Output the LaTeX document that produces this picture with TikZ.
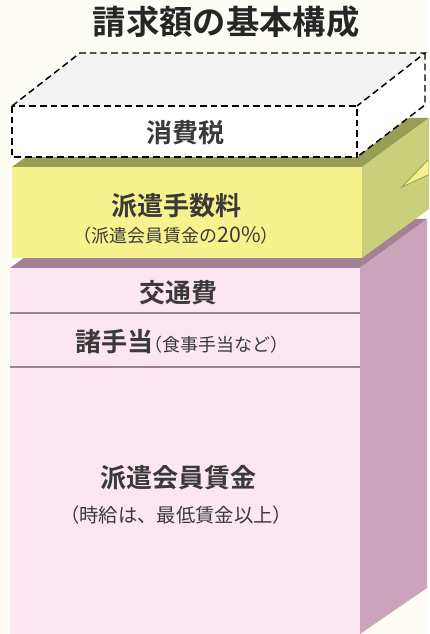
\documentclass[tikz,border=0pt]{standalone}
\usepackage{fontspec}
\setmainfont{Noto Sans CJK JP}[BoldFont={Noto Sans CJK JP Bold}]
\tikzset{every picture/.style={line width=0.75pt}}
\definecolor{bgcream}{RGB}{253,253,246}
\definecolor{textgray}{RGB}{58,58,58}
\definecolor{taxtop}{RGB}{243,243,243}
\definecolor{feefront}{RGB}{246,243,142}
\definecolor{feetop}{RGB}{152,158,84}
\definecolor{feeside}{RGB}{201,207,122}
\definecolor{wagefront}{RGB}{252,230,242}
\definecolor{wagetop}{RGB}{164,130,150}
\definecolor{wageside}{RGB}{203,163,186}
\definecolor{wageline}{RGB}{160,128,144}

\begin{document}
\begin{tikzpicture}[x=0.75pt,y=0.75pt,yscale=-1,xscale=1,
    layerlabel/.style={inner sep=0.75pt, text=textgray, font=\bfseries\fontsize{19.5}{22}\selectfont},
    layernote/.style={inner sep=0.75pt, text=textgray, font=\fontsize{13.5}{16}\selectfont},
    taxedge/.style={draw=black, line width=1.1pt, dash pattern={on 5pt off 3pt}}]
    \path[fill=bgcream] (0,0) rectangle (427,634); %keep the 427x634 frame

    %Shape: Wage block, top face
    \fill[wagetop] (10,268) -- (77,219) -- (427,219) -- (360,268) -- cycle ;
    %Shape: Wage block, side face
    \fill[wageside] (360,268) -- (427,219) -- (427,588) -- (360,634) -- cycle ;
    %Shape: Wage block, front face
    \fill[wagefront] (10,268) rectangle (360,634) ;
    %Straight Lines
    \draw[wageline, line width=1.2pt] (10,313) -- (360,313) ;
    \draw[wageline, line width=1.2pt] (10,367) -- (360,367) ;

    %Shape: Fee block, top face
    \fill[feetop] (12,167) -- (79,118) -- (429,118) -- (362,167) -- cycle ;
    %Shape: Fee block, side face
    \fill[feeside] (362,167) -- (429,118) -- (429,209) -- (362,258) -- cycle ;
    %Shape: Fee block, front face
    \fill[feefront] (12,167) rectangle (362,258) ;
    %Shape: Callout tip
    \draw[feetop, fill=feefront, line width=0.6pt] (428,160) -- (402,187) -- (428,175) ;

    %Shape: Tax block (dashed)
    \fill[taxtop] (12,106) -- (80,53) -- (425,53) -- (357,106) -- cycle ;
    \fill[white] (357,106) -- (425,53) -- (425,105) -- (357,157) -- cycle ;
    \fill[white] (12,106) rectangle (357,157) ;
    \draw[taxedge] (12,106) rectangle (357,157) ;
    \draw[taxedge] (12,106) -- (80,53) -- (425,53) -- (357,106) ;
    \draw[taxedge] (425,53) -- (425,105) -- (357,157) ;

    % Text Node
    \node[inner sep=0.75pt, text=black!85, font=\bfseries\fontsize{25}{28}\selectfont] (title) at (226,22) {請求額の基本構成};
    % Text Node
    \node[layerlabel] (tax) at (185,133) {消費税};
    % Text Node
    \node[layerlabel] (fee) at (176,206) {派遣手数料};
    % Text Node
    \node[layernote] (feenote) at (176,235) {（派遣会員賃金の{\fontsize{16}{16}\selectfont 20\%}）};
    % Text Node
    \node[layerlabel] (transport) at (178,293) {交通費};
    % Text Node
    \node[layerlabel] (allowance) at (182,342) {諸手当{\mdseries\fontsize{13.5}{16}\selectfont\hspace{-0.45em}（食事手当など）}};
    % Text Node
    \node[layerlabel] (wage) at (178,478) {派遣会員賃金};
    % Text Node
    \node[layernote, font=\fontsize{14.5}{17}\selectfont] (wagenote) at (176,515) {（時給は、最低賃金以上）};

\end{tikzpicture}
\end{document}
